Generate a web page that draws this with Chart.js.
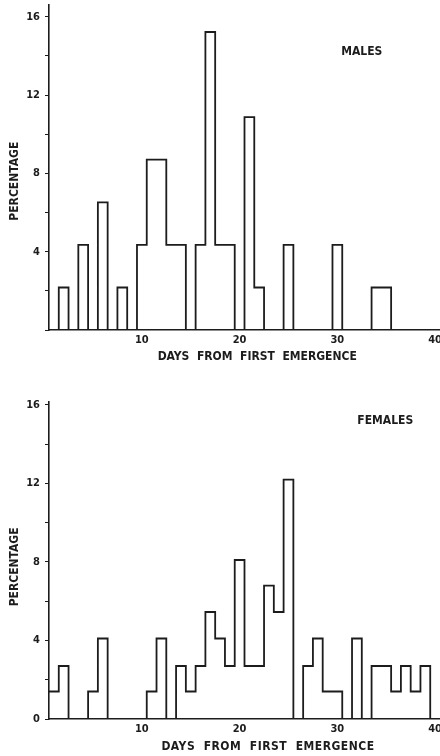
<!DOCTYPE html>
<html>
<head>
<meta charset="utf-8">
<script src="https://cdn.jsdelivr.net/npm/chart.js@4"></script>
<style>
  html, body { margin: 0; padding: 0; background: #fff; }
  body { width: 440px; height: 756px; position: relative; overflow: hidden; }
  .box { position: absolute; left: 0; width: 440px; }
  #top { top: 0; height: 365px; }
  #bot { top: 380px; height: 376px; }
</style>
</head>
<body>
<div class="box" id="top"><canvas id="malesChart"></canvas></div>
<div class="box" id="bot"><canvas id="femalesChart"></canvas></div>
<script>
// days from first emergence, one bin per day
const days = [1, 2, 3, 4, 5, 6, 7, 8, 9, 10,
              11, 12, 13, 14, 15, 16, 17, 18, 19, 20,
              21, 22, 23, 24, 25, 26, 27, 28, 29, 30,
              31, 32, 33, 34, 35, 36, 37, 38, 39, 40];

// percentage per day, males
const males = [0, 2.17, 0, 4.35, 0, 6.52, 0, 2.17, 0, 4.35,
               8.7, 8.7, 4.35, 4.35, 0, 4.35, 15.22, 4.35, 4.35, 0,
               10.87, 2.17, 0, 0, 4.35, 0, 0, 0, 0, 4.35,
               0, 0, 0, 2.17, 2.17, 0, 0, 0, 0, 0];

// percentage per day, females
const females = [1.4, 2.7, 0, 0, 1.4, 4.1, 0, 0, 0, 0,
                 1.4, 4.1, 0, 2.7, 1.4, 2.7, 5.45, 4.1, 2.7, 8.1,
                 2.7, 2.7, 6.8, 5.45, 12.2, 0, 2.7, 4.1, 1.4, 1.4,
                 0, 4.1, 0, 2.7, 2.7, 1.4, 2.7, 1.4, 2.7, 0];

const xTicks = [10, 20, 30, 40];
const yLabelsMales = [4, 8, 12, 16];
const yLabelsFemales = [0, 4, 8, 12, 16];

const ink = '#1c1c1c';
const FONT = "'DejaVu Sans Condensed', 'Liberation Sans Narrow', Roboto, sans-serif";
Chart.defaults.font.family = FONT;
Chart.defaults.font.size = 11;
Chart.defaults.font.weight = 'bold';
Chart.defaults.color = ink;

// histogram outline: each bin runs from day-0.5 to day+0.5
function steps(vals) {
    const pts = days.map((d, i) => ({x: d - 0.5, y: vals[i]}));
    pts.push({x: days[days.length - 1] + 0.5, y: 0});
    return pts;
}

// sex label + axis captions, placed like on the original drawing
const captions = {
    id: 'captions',
    afterDraw(chart, args, o) {
        const {ctx, chartArea, scales: {x, y}} = chart;
        ctx.save();
        ctx.font = 'bold 12px ' + FONT;
        ctx.fillStyle = ink;
        ctx.textAlign = 'center';
        ctx.textBaseline = 'middle';
        ctx.fillText(o.name, x.getPixelForValue(o.nameAt[0]), y.getPixelForValue(o.nameAt[1]));
        ctx.letterSpacing = o.spacing + 'px';
        ctx.fillText('DAYS  FROM  FIRST  EMERGENCE', x.getPixelForValue(o.xTitleAt), chartArea.bottom + o.xTitleDrop);
        ctx.letterSpacing = '0px';
        ctx.translate(15, y.getPixelForValue(o.yTitleAt));
        ctx.rotate(-Math.PI / 2);
        ctx.fillText('PERCENTAGE', 0, 0);
        ctx.restore();
    }
};

function makeChart(id, vals, yLabels, yMax, padTop, xHeight, cap) {
    new Chart(document.getElementById(id), {
        type: 'line',
        data: {
            datasets: [{
                data: steps(vals),
                stepped: 'before',
                borderColor: ink,
                borderWidth: 1.8,
                pointRadius: 0,
                fill: false
            }]
        },
        options: {
            responsive: true,
            maintainAspectRatio: false,
            animation: false,
            layout: {padding: {top: padTop, left: 0, right: 0, bottom: 0}},
            plugins: {
                legend: {display: false},
                tooltip: {enabled: false},
                captions: cap
            },
            scales: {
                x: {
                    type: 'linear',
                    min: 0.5,
                    max: 40.5,
                    afterBuildTicks: s => { s.ticks = xTicks.map(v => ({value: v})); },
                    afterFit: s => { s.height = xHeight; s.paddingLeft = 0; s.paddingRight = 0; },
                    grid: {display: false, drawTicks: false},
                    border: {display: true, color: ink, width: 1.6},
                    ticks: {padding: 4, maxRotation: 0, autoSkip: false}
                },
                y: {
                    min: 0,
                    max: yMax,
                    afterFit: s => { s.width = 49; s.paddingTop = 0; s.paddingBottom = 0; },
                    grid: {drawOnChartArea: false, drawTicks: true, tickLength: 4, color: ink, lineWidth: 1},
                    border: {display: true, color: ink, width: 1.6},
                    ticks: {
                        stepSize: 2,
                        includeBounds: false,
                        autoSkip: false,
                        padding: 5,
                        callback: v => yLabels.includes(v) ? String(v) : ''
                    }
                }
            }
        },
        plugins: [captions]
    });
}

makeChart('malesChart', males, yLabelsMales, 16.6, 5, 35,
    {name: 'MALES', nameAt: [32.5, 14.2], xTitleAt: 21.8, xTitleDrop: 26.5, spacing: 0, yTitleAt: 7.6});
makeChart('femalesChart', females, yLabelsFemales, 16.15, 22, 37,
    {name: 'FEMALES', nameAt: [34.9, 15.2], xTitleAt: 22.9, xTitleDrop: 28, spacing: 0.5, yTitleAt: 7.75});
</script>
</body>
</html>
